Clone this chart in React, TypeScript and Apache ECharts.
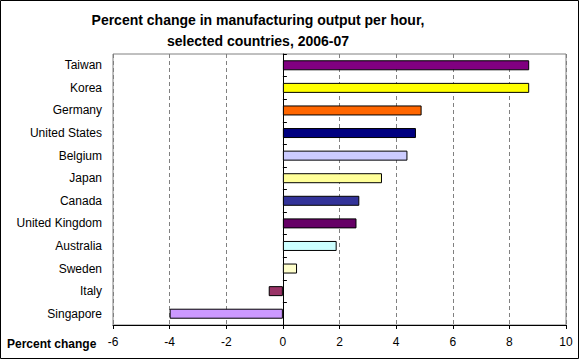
import React, { useEffect, useRef } from "react";
import * as echarts from "echarts";

const categories = ["Taiwan", "Korea", "Germany", "United States", "Belgium", "Japan", "Canada", "United Kingdom", "Australia", "Sweden", "Italy", "Singapore"];
const values = [8.7, 8.7, 4.9, 4.7, 4.4, 3.5, 2.7, 2.6, 1.9, 0.5, -0.5, -4.0];
const colors = ["#800080", "#FFFF00", "#FF6600", "#000080", "#CCCCFF", "#FFFF99", "#333399", "#660066", "#CCFFFF", "#FFFFCC", "#993366", "#CC99FF"];
const titleLines = ["Percent change in manufacturing output per hour,", "selected countries, 2006-07"];
const axisName = "Percent change";

const FONT = "Liberation Sans, Arial, sans-serif";

export default function App() {
  const ref = useRef<HTMLDivElement>(null);
  useEffect(() => {
    if (!ref.current) return;
    const chart = echarts.init(ref.current, null, { renderer: "svg" });
    chart.setOption({
      animation: false,
      backgroundColor: "#ffffff",
      textStyle: { fontFamily: FONT },
      grid: {
        left: 113, right: 14, top: 54, bottom: 35,
        show: true, borderColor: "#808080", borderWidth: 1, backgroundColor: "transparent",
      },
      xAxis: {
        type: "value", min: -6, max: 10, interval: 2,
        axisLine: { show: true, onZero: false, lineStyle: { color: "#000", width: 1 } },
        axisTick: { show: true, length: 4, lineStyle: { color: "#000" } },
        axisLabel: { color: "#000", fontSize: 12, fontFamily: FONT, margin: 11 },
        splitLine: { show: true, lineStyle: { color: "#808080", type: [4, 3], width: 1 } },
      },
      yAxis: [
        {
          type: "category", data: categories, inverse: true, position: "left",
          axisLine: { show: false, onZero: false }, axisTick: { show: false },
          axisLabel: { color: "#000", fontSize: 12, fontFamily: FONT, margin: 11 },
          splitLine: { show: false },
        },
        {
          type: "category", data: categories, inverse: true, position: "right",
          axisLine: { show: true, onZero: true, lineStyle: { color: "#000", width: 1 } },
          axisTick: { show: true, inside: false, length: 4, lineStyle: { color: "#000" } },
          axisLabel: { show: false },
          splitLine: { show: false },
        },
      ],
      series: [
        {
          type: "bar",
          yAxisIndex: 0,
          barWidth: 10,
          data: values.map((v, i) => ({ value: v, itemStyle: { color: colors[i] } })),
          itemStyle: { borderColor: "#000", borderWidth: 1 },
        },
      ],
      graphic: [
        { type: "rect", shape: { x: 0.5, y: 0.5, width: 578, height: 358 }, style: { fill: "none", stroke: "#000", lineWidth: 1 }, silent: true },
        { type: "text", x: 258, y: 20, style: { text: titleLines[0], fontSize: 14, fontWeight: "bold", fontFamily: FONT, fill: "#000", textAlign: "center", textVerticalAlign: "middle" } },
        { type: "text", x: 258, y: 41, style: { text: titleLines[1], fontSize: 14, fontWeight: "bold", fontFamily: FONT, fill: "#000", textAlign: "center", textVerticalAlign: "middle" } },
        { type: "text", x: 7, y: 344, style: { text: axisName, fontSize: 12, fontWeight: "bold", fontFamily: FONT, fill: "#000", textAlign: "left", textVerticalAlign: "middle" } },
      ],
    });
    return () => chart.dispose();
  }, []);
  return <div ref={ref} style={{ position: "absolute", left: 0, top: 0, width: 580, height: 360 }} />;
}
